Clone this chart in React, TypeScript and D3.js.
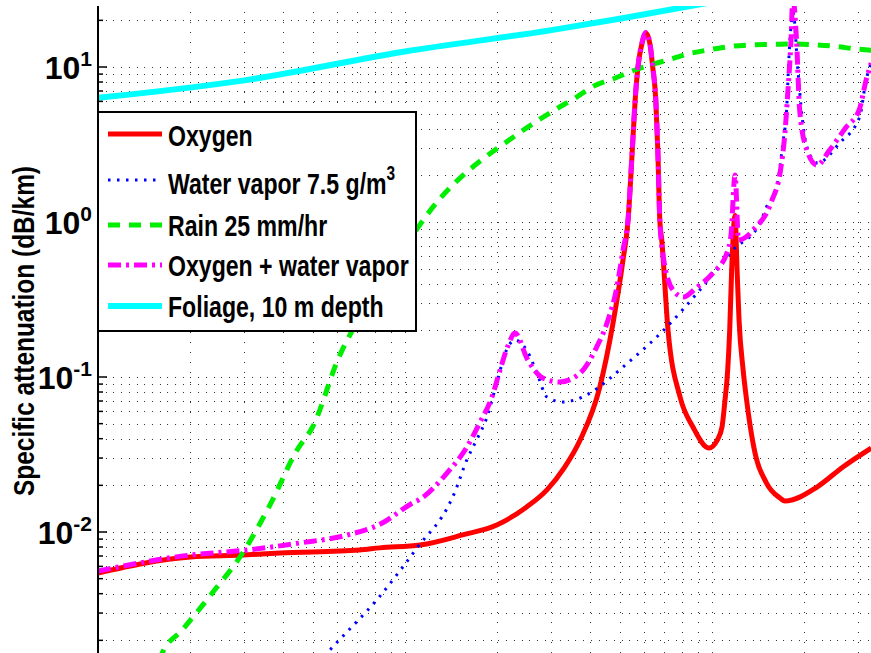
import React from 'react'
import * as d3 from 'd3'

const W = 871
const H = 653

// [frequency GHz, specific attenuation dB/km]
const oxygen: [number, number][] = [
  [1, 0.00544], [2, 0.0069], [2.97, 0.0071], [3.91, 0.00732], [7.1, 0.00766],
  [8.28, 0.0079], [11.2, 0.00824], [15.4, 0.00957], [19.9, 0.0111], [24.9, 0.0145],
  [29, 0.0187], [33, 0.0259], [37.2, 0.0392], [43.1, 0.0861], [47.6, 0.223],
  [51.3, 0.569], [53.3, 1.03], [55.0, 2.91], [56.2, 6.12], [57.4, 10], [59.2, 14.3],
  [60.9, 16.6], [62.7, 14.3], [64.1, 10], [65.6, 6.12], [66.6, 2.91], [67.6, 1.03],
  [68.6, 0.765], [71.9, 0.201], [78.7, 0.0743], [86.7, 0.0476], [97.7, 0.0348],
  [104, 0.0392], [107.8, 0.0476], [110, 0.068], [112.5, 0.111], [114.2, 0.201],
  [115.9, 0.49], [118.9, 1.1], [120.7, 0.49], [122.5, 0.233], [126.3, 0.111],
  [130, 0.068], [136.8, 0.0353], [150.5, 0.0207], [166.6, 0.01656], [172.8, 0.01585],
  [219.8, 0.0195], [267, 0.0263], [330, 0.0348],
]

const waterVapor: [number, number][] = [
  [4.55, 0.00106], [5.78, 0.00179], [8.29, 0.00386], [11.0, 0.008], [14.0, 0.0154],
  [14.5, 0.0179], [15.9, 0.0292], [17.1, 0.0392], [18.5, 0.0552], [19.9, 0.0915],
  [21.4, 0.149], [22.8, 0.173], [24.9, 0.149], [26.9, 0.106], [29.0, 0.0743],
  [32.7, 0.069], [37.2, 0.0732], [41.5, 0.0824], [51.3, 0.116], [71.2, 0.21],
  [91.3, 0.364], [117, 0.66], [143.4, 0.985], [150.5, 1.25], [162.5, 1.68],
  [170.1, 3.23], [175.2, 5.52], [177.9, 11.1], [183.9, 22.3], [190.1, 10],
  [196.6, 4.76], [203.7, 3.05], [220.5, 2.4], [260.3, 3.23], [302.6, 4.76],
  [317.7, 8.24], [330, 10.6],
]

const rain: [number, number][] = [
  [1.5, 0.0011], [1.62, 0.00166], [1.88, 0.00233], [2.37, 0.0041], [2.97, 0.0074],
  [3.63, 0.0149], [4.45, 0.0338], [5.0, 0.0476], [6.1, 0.135], [6.75, 0.201],
  [8, 0.338], [10, 0.68], [11, 0.915], [23.3, 3.7], [27, 4.5], [30.8, 5.3],
  [35.8, 6.3], [41, 7.5], [47.8, 8.4], [56.4, 9.6], [71.7, 11.1], [84.5, 12.2],
  [100, 13.0], [116, 13.6], [135, 13.9], [158, 14.0], [186, 14.1], [217, 13.9],
  [251, 13.6], [292, 13.1], [330, 12.8],
]

const oxygenPlusWater: [number, number][] = [
  [1, 0.0056], [2, 0.0071], [2.97, 0.0076], [4.55, 0.0085], [6.47, 0.00955],
  [8.28, 0.0112], [10.6, 0.0154], [11.2, 0.0163], [13.7, 0.024], [15.9, 0.0353],
  [17.5, 0.0505], [19.2, 0.0743], [20.4, 0.111], [21.7, 0.161], [22.8, 0.192],
  [25.1, 0.129], [28.1, 0.0986], [31.9, 0.0929], [37.2, 0.106], [42.1, 0.156],
  [45.5, 0.223], [49.0, 0.381], [51.3, 0.66], [53.3, 1.05], [55.0, 2.95], [56.2, 6.2],
  [57.4, 10.1], [59.2, 14.4], [60.9, 16.7], [62.7, 14.4], [64.1, 10.1], [65.6, 6.2],
  [66.6, 2.95], [67.6, 1.05], [69.1, 0.63], [74.6, 0.364], [80.7, 0.328],
  [88.7, 0.375], [100.8, 0.469], [111.8, 0.63], [115.3, 0.824], [118.9, 2.01],
  [122, 0.765], [130, 0.81], [138, 0.915], [145.6, 1.03], [150.5, 1.14], [157, 1.39],
  [166.6, 2.07], [172.8, 3.75], [176.8, 7.1], [180.9, 14.9], [183.3, 28],
  [188.5, 14.9], [193, 5.28], [203.7, 2.91], [219.8, 2.33], [241.6, 2.91],
  [273.7, 4.1], [301.6, 5.28], [317.7, 8.24], [330, 10.6],
]

const foliage: [number, number][] = [
  [1, 6.32], [3, 8.2], [10, 12.6], [30, 17.3], [50, 20.5], [100, 26.2],
]

const legendLabels = ['Oxygen', 'Water vapor 7.5 g/m', 'Rain 25 mm/hr', 'Oxygen + water vapor', 'Foliage, 10 m depth']
const yTickExps = [-2, -1, 0, 1]

const FONT = '"Liberation Sans", Arial, Helvetica, sans-serif'

export default function App() {
  const plotLeft = 98
  const plotTop = 6
  const x = d3.scaleLog().domain([1, 1000]).range([plotLeft, plotLeft + 3 * 307])
  const y = d3.scaleLog().domain([1e-3, 10]).range([687, 67])

  const line = d3.line<[number, number]>()
    .x(d => x(d[0]))
    .y(d => y(d[1]))
    .curve(d3.curveMonotoneX)

  const series = [
    { data: oxygen, color: '#ff0000', width: 5, dash: undefined },
    { data: waterVapor, color: '#0000ff', width: 3, dash: '2.5,6.5' },
    { data: rain, color: '#00ee00', width: 5, dash: '12,9' },
    { data: oxygenPlusWater, color: '#ff00ff', width: 5, dash: '13,5,3,5' },
    { data: foliage, color: '#00ffff', width: 6, dash: undefined },
  ]

  // grid values (1..9 per decade)
  const hGrid: { py: number; major: boolean }[] = []
  for (let e = -3; e <= 1; e++) {
    for (let m = 1; m <= 9; m++) {
      const py = y(m * Math.pow(10, e))
      if (py >= plotTop && py <= H) hGrid.push({ py, major: m === 1 })
    }
  }
  const vGrid: number[] = []
  for (let e = 0; e <= 2; e++) {
    for (let m = 1; m <= 9; m++) {
      const px = x(m * Math.pow(10, e))
      if (px > plotLeft && px <= W) vGrid.push(px)
    }
  }

  const rowY = [134, 180, 225, 265, 306]
  const textY = [146, 194, 236, 276, 317]

  return (
    <svg width={W} height={H} style={{ position: 'absolute', left: 0, top: 0, background: '#fff' }}>
      <defs>
        <clipPath id="plot-clip">
          <rect x={plotLeft} y={plotTop} width={W - plotLeft} height={H - plotTop} />
        </clipPath>
      </defs>

      {/* grid */}
      <g stroke="#333" strokeWidth={1} shapeRendering="crispEdges">
        {hGrid.map((g, i) => (
          <line key={'h' + i} x1={plotLeft} x2={W} y1={Math.round(g.py) + 0.5} y2={Math.round(g.py) + 0.5} strokeDasharray="1,6.7" />
        ))}
        {vGrid.map((px, i) => (
          <line key={'v' + i} x1={Math.round(px) + 0.5} x2={Math.round(px) + 0.5} y1={plotTop + 6} y2={H} strokeDasharray="1,9" />
        ))}
      </g>

      {/* data */}
      <g clipPath="url(#plot-clip)" fill="none" strokeLinejoin="round">
        {series.map((s, i) => (
          <path key={i} d={line(s.data) || ''} stroke={s.color} strokeWidth={s.width} strokeDasharray={s.dash} />
        ))}
      </g>

      {/* y axis */}
      <line x1={plotLeft} x2={plotLeft} y1={plotTop} y2={H} stroke="#000" strokeWidth={2} />
      <g stroke="#000" strokeWidth={1.5}>
        {hGrid.map((g, i) => (
          <line key={'t' + i} x1={plotLeft} x2={plotLeft + (g.major ? 9 : 5)} y1={g.py} y2={g.py} />
        ))}
      </g>
      <g fontFamily={FONT} fontWeight="bold" fill="#000">
        {yTickExps.map(e => (
          <text key={e} x={92} y={y(Math.pow(10, e)) + 12} textAnchor="end">
            <tspan fontSize={32}>10</tspan>
            <tspan fontSize={21} dy={-13}>{String(e)}</tspan>
          </text>
        ))}
        <text transform={`translate(34,331) rotate(-90) scale(0.815,1)`} textAnchor="middle" fontSize={30}>
          Specific attenuation (dB/km)
        </text>
      </g>

      {/* legend */}
      <rect x={98} y={112} width={318} height={219} fill="#fff" stroke="#000" strokeWidth={2} />
      {series.map((s, i) => (
        <line key={'l' + i} x1={108} x2={162} y1={rowY[i]} y2={rowY[i]} stroke={s.color}
          strokeWidth={s.width} strokeDasharray={s.dash} />
      ))}
      <g fontFamily={FONT} fontWeight="bold" fill="#000">
        {legendLabels.map((t, i) => (
          <text key={t} transform={`translate(168,${textY[i]}) scale(0.77,1)`} fontSize={30}>
            {t}
            {i === 1 && <tspan fontSize={20} dy={-14}>3</tspan>}
          </text>
        ))}
      </g>
    </svg>
  )
}
